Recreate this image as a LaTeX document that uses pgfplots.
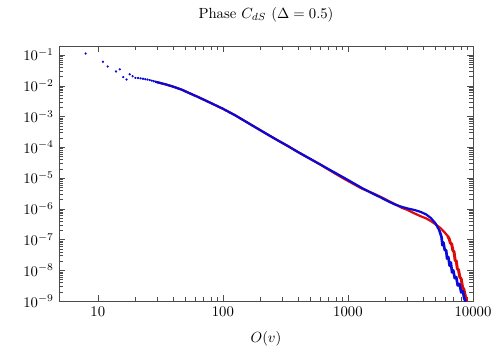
\documentclass[border=0pt]{standalone}
\usepackage{pgfplots}
\pgfplotsset{compat=1.18}
\definecolor{dred}{RGB}{222,10,10}
\definecolor{dblue}{RGB}{10,10,215}

\begin{document}
\begin{tikzpicture}
\begin{axis}[
    xmode=log, ymode=log,
    scale only axis, width=281.5pt, height=173.4pt,
    xmin=4.9, xmax=10000, ymin=1e-9, ymax=0.195,
    xtick={10,100,1000,10000}, xticklabels={10,100,1000,10000},
    ytick={1e-9,1e-8,1e-7,1e-6,1e-5,1e-4,1e-3,1e-2,1e-1},
    title={Phase $C_{dS}$ ($\Delta = 0.5$)},
    title style={at={(0.5,1.0745)}, anchor=base},
    xlabel={$O(v)$},
    xlabel style={at={(0.5,-0.149)}, anchor=center},
    axis line style={black!70}, tick style={black!70},
    tick align=inside,
    every axis plot/.append style={line join=round, line cap=round},
]
% blue, isolated points at small O(v)
\addplot[only marks, mark=*, mark size=0.6pt, dblue] coordinates {
(8,0.111)(11,0.060)(12,0.042)(14,0.029)(15,0.034)(16,0.019)(17,0.0159)
(18,0.0234)(19,0.0204)(20,0.0180)(21,0.0177)(22,0.0173)(23,0.0168)
(24,0.0163)(25,0.0158)(26,0.0152)(27,0.0146)(28,0.0140)(29,0.0134)};

% red series
\addplot[dred, line width=1.5pt] coordinates {
(30,1.29e-2)(35,1.10e-2)(40,9.33e-3)(47,7.41e-3)(53.5,5.82e-3)(62,4.47e-3)
(70,3.55e-3)(80,2.75e-3)(100,1.78e-3)(125,1.10e-3)(150,7.08e-4)(180,4.57e-4)
(220,2.82e-4)(270,1.74e-4)(330,1.10e-4)(400,6.92e-5)(500,4.17e-5)(600,2.75e-5)
(750,1.58e-5)(900,1.02e-5)(1100,6.46e-6)(1300,4.47e-6)(1550,3.31e-6)
(1842,2.40e-6)(2100,1.82e-6)(2400,1.38e-6)(2700,1.07e-6)(3000,9.12e-7)
(3400,7.08e-7)(3800,5.75e-7)(4200,4.90e-7)(4600,3.98e-7)(5000,3.16e-7)
(5500,2.34e-7)(5935,1.70e-7)(6300,1.26e-7)};
\addplot[dred, line width=2pt] coordinates {
(6300,1.26e-7)(6450,1.05e-7)(6600,7.6e-8)(6750,7.2e-8)(6900,4.4e-8)(7050,4.0e-8)
(7200,2.1e-8)(7350,2.0e-8)(7500,1.1e-8)(7650,1.05e-8)(7850,6.0e-9)
(8050,5.2e-9)(8250,2.8e-9)(8450,2.4e-9)(8700,1.4e-9)(8900,1.0e-9)};

% blue series
\addplot[dblue, line width=1.5pt] coordinates {
(29,0.0134)(30,1.29e-2)(35,1.10e-2)(40,9.33e-3)(47,7.41e-3)(53.5,5.82e-3)
(62,4.47e-3)(70,3.55e-3)(80,2.75e-3)(100,1.78e-3)(125,1.10e-3)(150,7.08e-4)
(180,4.57e-4)(220,2.82e-4)(270,1.74e-4)(330,1.10e-4)(400,6.92e-5)(500,4.17e-5)
(600,2.75e-5)(750,1.66e-5)(900,1.10e-5)(1100,6.92e-6)(1300,4.68e-6)
(1550,3.24e-6)(1842,2.29e-6)(2100,1.74e-6)(2400,1.35e-6)(2700,1.15e-6)
(3000,1.02e-6)(3400,9.12e-7)(3800,7.94e-7)(4200,6.61e-7)(4600,5.01e-7)
(5000,3.39e-7)(5400,1.91e-7)};
\addplot[dblue, line width=1.8pt] coordinates {
(5400,1.91e-7)(5600,1.2e-7)(5700,6.5e-8)(5800,8.0e-8)(5950,4.5e-8)(6100,4.5e-8)
(6200,2.4e-8)(6350,2.7e-8)(6500,1.4e-8)(6650,1.8e-8)(6800,8.5e-9)
(6950,1.0e-8)(7150,5.5e-9)(7350,6.0e-9)(7550,3.2e-9)(7800,3.6e-9)
(8050,1.9e-9)(8300,2.1e-9)(8500,1.2e-9)(8700,1.0e-9)};

\coordinate (bl) at (rel axis cs:-0.1425,-0.1922);
\coordinate (tr) at (rel axis cs:1.0652,1.1804);
\end{axis}
\pgfresetboundingbox
\useasboundingbox (bl) rectangle (tr);
\end{tikzpicture}
\end{document}
